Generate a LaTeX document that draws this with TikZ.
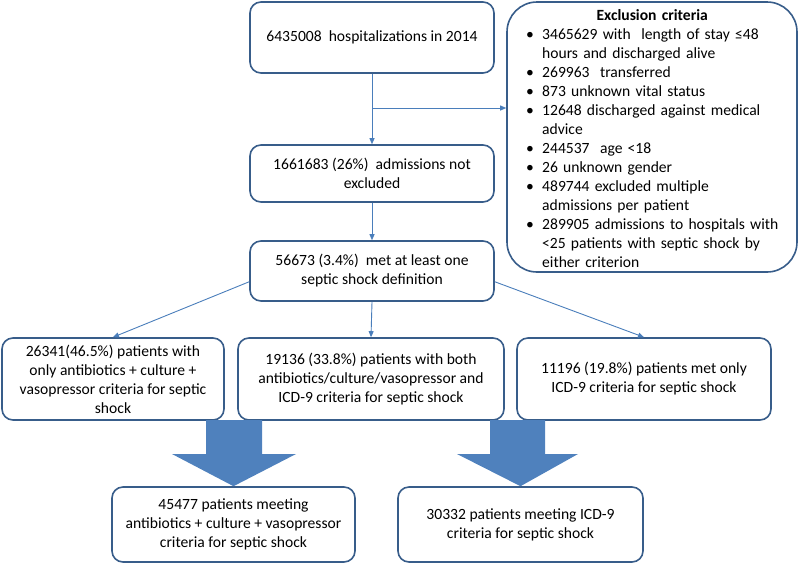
\documentclass[tikz,border=0pt]{standalone}
\usepackage{fontspec}
\setmainfont{Carlito}
\usetikzlibrary{arrows.meta}

\definecolor{boxline}{HTML}{385D8A}
\definecolor{linkline}{HTML}{4A7EBB}
\definecolor{bigfill}{HTML}{4F81BD}

\tikzset{
  flowbox/.style={draw=boxline, line width=1.6pt, rounded corners=11pt, fill=white,
    align=center, inner sep=2pt},
  link/.style={draw=linkline, line width=0.9pt, -{Triangle[length=6pt,width=5pt]}},
  bigarrow/.style={fill=bigfill}
}

\newcommand{\exitem}[1]{\par\hangindent=35pt\hangafter=1\noindent
  \makebox[35pt][l]{\hspace{19pt}\textbullet}#1}

\begin{document}
\begin{tikzpicture}[x=1pt, y=-1pt, font=\fontsize{15.6}{19}\selectfont]
  \useasboundingbox (0,0) rectangle (800,566);

  % top of the flow
  \node[flowbox, minimum width=244pt, minimum height=71pt] (hosp) at (372,37.5)
    {6435008\ \ hospitalizations in 2014};
  \node[flowbox, minimum width=244pt, minimum height=57pt] (notexcl) at (372,173.5)
    {1661683 (26\%)\ \ admissions not\\excluded};
  \node[flowbox, minimum width=244pt, minimum height=60pt] (septic) at (372,271)
    {56673 (3.4\%)\ \ met at least one\\septic shock definition};

  % exclusion box
  \node[flowbox, rounded corners=30pt, minimum width=290pt, minimum height=270pt] (excl) at (652,137) {};
  \node[anchor=north west, text width=290pt, align=left, inner sep=0pt] (excltext) at (507,9.5) {%
    {\centering\bfseries Exclusion criteria\par}
    \exitem{3465629 with\ \ length of stay ≤48\newline hours and discharged alive}
    \exitem{269963\ \ transferred}
    \exitem{873 unknown vital status}
    \exitem{12648 discharged against medical\newline advice}
    \exitem{244537\ \ age <18}
    \exitem{26 unknown gender}
    \exitem{489744 excluded multiple\newline admissions per patient}
    \exitem{289905 admissions to hospitals with\newline <25 patients with septic shock by\newline either criterion}\par};

  % three groups
  \node[flowbox, minimum width=222pt, minimum height=82pt] (abx) at (113,379)
    {26341(46.5\%) patients with\\only antibiotics + culture +\\vasopressor criteria for septic\\shock};
  \node[flowbox, minimum width=266pt, minimum height=82pt] (both) at (371,379)
    {19136 (33.8\%) patients with both\\antibiotics/culture/vasopressor and\\ICD-9 criteria for septic shock};
  \node[flowbox, minimum width=254pt, minimum height=82pt] (icd) at (644,379)
    {11196 (19.8\%) patients met only\\ICD-9 criteria for septic shock};

  % totals
  \node[flowbox, minimum width=243pt, minimum height=75pt] (abxall) at (233.5,524.5)
    {45477 patients meeting\\antibiotics + culture + vasopressor\\criteria for septic shock};
  \node[flowbox, minimum width=245pt, minimum height=75pt] (icdall) at (520.5,524.5)
    {30332 patients meeting ICD-9\\criteria for septic shock};

  % connectors
  \coordinate (branch) at (hosp.south |- 0,108);
  \draw[link] (hosp.south) -- (notexcl.north);
  \draw[link] (branch) -- (branch -| excl.west);
  \draw[link] (notexcl.south) -- (septic.north);
  \draw[link] (septic.185) -- (abx.north);
  \draw[link] (septic.south) -- (both.north);
  \draw[link] (septic.-5) -- (icd.north);

  % block arrows
  \fill[bigarrow] (206,420) -- (262,420) -- (262,454) -- (296,454) -- (abxall.north)
    -- (172,454) -- (206,454) -- cycle;
  \fill[bigarrow] (490,420) -- (545,420) -- (545,454) -- (578,454) -- (icdall.north)
    -- (457,454) -- (490,454) -- cycle;

\end{tikzpicture}
\end{document}
